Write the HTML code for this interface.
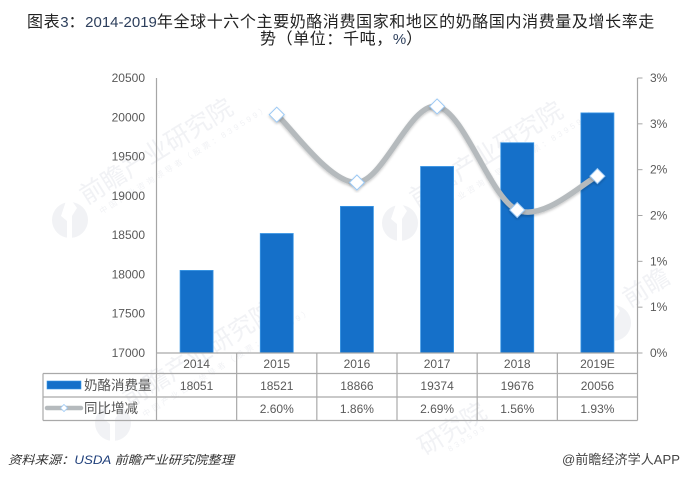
<!DOCTYPE html>
<html lang="zh">
<head>
<meta charset="utf-8">
<title>奶酪消费量及增长率走势</title>
<style>
html,body{margin:0;padding:0;background:#fff;overflow:hidden;}
#wrap{position:relative;width:680px;height:478px;overflow:hidden;background:#fff;}
svg{display:block;position:absolute;left:0;top:0;}
text{font-family:"Liberation Sans","Noto Sans CJK SC",sans-serif;}
.ttl{font-family:"WenQuanYi Zen Hei","Noto Sans CJK SC",sans-serif;font-size:16px;letter-spacing:0.6px;fill:#222;}
.ttl tspan{font-family:"Liberation Sans",sans-serif;font-size:15px;letter-spacing:0;fill:#2d3f5c;}
</style>
</head>
<body>
<div id="wrap">
<svg id="chart" width="680" height="478" viewBox="0 0 680 478" xmlns="http://www.w3.org/2000/svg">
  <defs>
    <filter id="soft" x="-20%" y="-20%" width="140%" height="140%">
      <feDropShadow dx="0" dy="1.5" stdDeviation="1.2" flood-color="#000" flood-opacity="0.22"/>
    </filter>
  </defs>
  <g id="watermarks" fill="#f1f2f5">
    <g transform="translate(70,220)">
      <circle r="18"/>
      <path d="M-4 -19L-9 -4L-3 1L-3 19L2 19L2 -4L7 -12L2 -19Z" fill="#fff"/>
      <text transform="rotate(-32) translate(22,-4)" font-size="25">前瞻产业研究院</text>
      <text transform="rotate(-32) translate(30,12)" font-size="8" letter-spacing="3">中国产业咨询领导者（股票：839599）</text>
    </g>
    <g transform="translate(113,423)">
      <circle r="18"/>
      <path d="M-4 -19L-9 -4L-3 1L-3 19L2 19L2 -4L7 -12L2 -19Z" fill="#fff"/>
      <text transform="rotate(-32) translate(22,-4)" font-size="25">前瞻产业研究院</text>
      <text transform="rotate(-32) translate(30,12)" font-size="8" letter-spacing="3">中国产业咨询领导者（股票：839599）</text>
    </g>
    <g transform="translate(400,223)">
      <circle r="18"/>
      <path d="M-4 -19L-9 -4L-3 1L-3 19L2 19L2 -4L7 -12L2 -19Z" fill="#fff"/>
      <text transform="rotate(-32) translate(22,-4)" font-size="25">前瞻产业研究院</text>
      <text transform="rotate(-32) translate(30,12)" font-size="8" letter-spacing="3">中国产业咨询领导者（股票：839599）</text>
    </g>
    <g transform="translate(613,323)">
      <circle r="18"/>
      <path d="M-4 -19L-9 -4L-3 1L-3 19L2 19L2 -4L7 -12L2 -19Z" fill="#fff"/>
      <text transform="rotate(-32) translate(22,-4)" font-size="25">前瞻</text>
    </g>
    <text transform="translate(425,456) rotate(-32)" font-size="25">研究院</text>
    <text transform="translate(450,452) rotate(-32)" font-size="8" letter-spacing="3">839599</text>
  </g>
  <text class="ttl" x="27" y="27">图表<tspan>3</tspan>：<tspan>2014-2019</tspan>年全球十六个主要奶酪消费国家和地区的奶酪国内消费量及增长率走</text>
  <text class="ttl" x="260" y="44">势（单位：千吨，<tspan>%</tspan>）</text>
  <g id="plot"></g>
  <text x="8" y="464" font-size="12" font-style="italic" fill="#333" textLength="226" lengthAdjust="spacingAndGlyphs">资料来源：<tspan fill="#1f3f7a">USDA</tspan> 前瞻产业研究院整理</text>
  <text x="680" y="464" text-anchor="end" font-size="13" fill="#444" textLength="118" lengthAdjust="spacingAndGlyphs">@前瞻经济学人APP</text>
</svg>
</div>
<script>
const categories = ['2014', '2015', '2016', '2017', '2018', '2019E'];
const consumption = [18051, 18521, 18866, 19374, 19676, 20056];
const growth = [null, 2.60, 1.86, 2.69, 1.56, 1.93];
const leftTicks = [17000, 17500, 18000, 18500, 19000, 19500, 20000, 20500];
const rightTicks = [0, 0.5, 1, 1.5, 2, 2.5, 3];
const rowLabels = ['奶酪消费量', '同比增减'];

const NS = 'http://www.w3.org/2000/svg';
const plot = document.getElementById('plot');
const plotLeft = 156.5, plotRight = 637.5, plotTop = 78, plotBottom = 353;
const tableLeft = 43, rowY = [353, 373.5, 397, 420.5];
const barWidth = 33;
const AXIS = '#a6a6a6', GRID = '#a9a9a9', TXT = '#595959';

const bandW = (plotRight - plotLeft) / categories.length;
function xBand(i) { return plotLeft + bandW * (i + 0.5); }
function yLeft(v) { return plotBottom - (v - 17000) / (20500 - 17000) * (plotBottom - plotTop); }
function yRight(v) { return plotBottom - v / 3 * (plotBottom - plotTop); }

function el(tag, attrs, parent) {
  const e = document.createElementNS(NS, tag);
  for (const k in attrs) e.setAttribute(k, attrs[k]);
  (parent || plot).appendChild(e);
  return e;
}
function label(x, y, str, anchor, size, fill) {
  const t = el('text', { x: x, y: y, 'text-anchor': anchor, 'font-size': size, fill: fill || TXT });
  t.textContent = str;
  return t;
}

// bars
categories.forEach(function (c, i) {
  const y = yLeft(consumption[i]);
  const b = el('rect', { x: xBand(i) - barWidth / 2, y: y, width: barWidth, height: plotBottom - y, fill: '#1570c9', stroke: '#3b97e6', 'stroke-width': 0.8 });
  
  
});

// axes
const axisL = el('line', { x1: plotLeft, y1: plotTop, x2: plotLeft, y2: plotBottom, stroke: AXIS, 'stroke-width': 1.2 });


const axisR = el('line', { x1: plotRight, y1: plotTop, x2: plotRight, y2: plotBottom, stroke: AXIS, 'stroke-width': 1.2 });



leftTicks.forEach(function (v) {
  const t = label(145, yLeft(v) + 4, String(v), 'end', 12);
  
  
});
rightTicks.forEach(function (v) {
  const y = yRight(v);
  const m = el('line', { x1: plotRight, y1: y, x2: plotRight + 5, y2: y, stroke: AXIS, 'stroke-width': 1 });
  
  
  const t = label(650, y + 4, Math.round(v + 0.001) + '%', 'start', 12);
  
  
});

// data table grid
rowY.forEach(function (y, r) {
  const h = el('line', { x1: r === 0 ? plotLeft : tableLeft, y1: y, x2: plotRight, y2: y, stroke: GRID, 'stroke-width': 1.2 });
  
  
});
for (let i = 0; i <= categories.length; i++) {
  const x = plotLeft + bandW * i;
  const v = el('line', { x1: x, y1: rowY[0], x2: x, y2: rowY[3], stroke: GRID, 'stroke-width': 1.2 });
  
  
}
const tl = el('line', { x1: tableLeft, y1: rowY[1], x2: tableLeft, y2: rowY[3], stroke: GRID, 'stroke-width': 1.2 });



// table contents
categories.forEach(function (c, i) {
  const a = label(xBand(i), 368, c, 'middle', 12);
  
  
  const b = label(xBand(i), 390, String(consumption[i]), 'middle', 12);
  
  
  if (growth[i] !== null) {
    const g = label(xBand(i), 413, growth[i].toFixed(2) + '%', 'middle', 12);
    
    
  }
});

// legend keys in table
const key1 = el('rect', { x: 47, y: 381, width: 34, height: 8, fill: '#1570c9', stroke: '#3b97e6', 'stroke-width': 0.6 });


const rl1 = label(84, 390, rowLabels[0], 'start', 13.5, '#555');


const key2 = el('line', { x1: 47, y1: 408, x2: 81, y2: 408, stroke: '#b5babd', 'stroke-width': 4.5, 'stroke-linecap': 'round' });


const key2m = el('path', { d: 'M64 404.5L67.5 408L64 411.5L60.5 408Z', fill: '#fff', stroke: '#9cc9f5', 'stroke-width': 0.8 });


const rl2 = label(84, 413, rowLabels[1], 'start', 13.5, '#555');



// smoothed growth line (Catmull-Rom through the data points)
const pts = [];
growth.forEach(function (v, i) { if (v !== null) pts.push([xBand(i), yRight(v)]); });
let d = 'M' + pts[0][0] + ' ' + pts[0][1];
for (let i = 0; i < pts.length - 1; i++) {
  const p0 = pts[Math.max(0, i - 1)], p1 = pts[i], p2 = pts[i + 1], p3 = pts[Math.min(pts.length - 1, i + 2)];
  const c1x = p1[0] + (p2[0] - p0[0]) / 6, c1y = p1[1] + (p2[1] - p0[1]) / 6;
  const c2x = p2[0] - (p3[0] - p1[0]) / 6, c2y = p2[1] - (p3[1] - p1[1]) / 6;
  d += 'C' + c1x + ' ' + c1y + ' ' + c2x + ' ' + c2y + ' ' + p2[0] + ' ' + p2[1];
}
const line = el('path', { d: d, fill: 'none', stroke: '#b5babd', 'stroke-width': 5.5, 'stroke-linecap': 'round', filter: 'url(#soft)' });



growth.forEach(function (v, i) {
  if (v === null) return;
  const x = xBand(i), y = yRight(v), r = 7.5;
  const m = el('path', { d: 'M' + x + ' ' + (y - r) + 'L' + (x + r) + ' ' + y + 'L' + x + ' ' + (y + r) + 'L' + (x - r) + ' ' + y + 'Z', fill: '#fff', stroke: '#9cc9f5', 'stroke-width': 1, filter: 'url(#soft)' });
  
  
});
</script>
</body>
</html>
